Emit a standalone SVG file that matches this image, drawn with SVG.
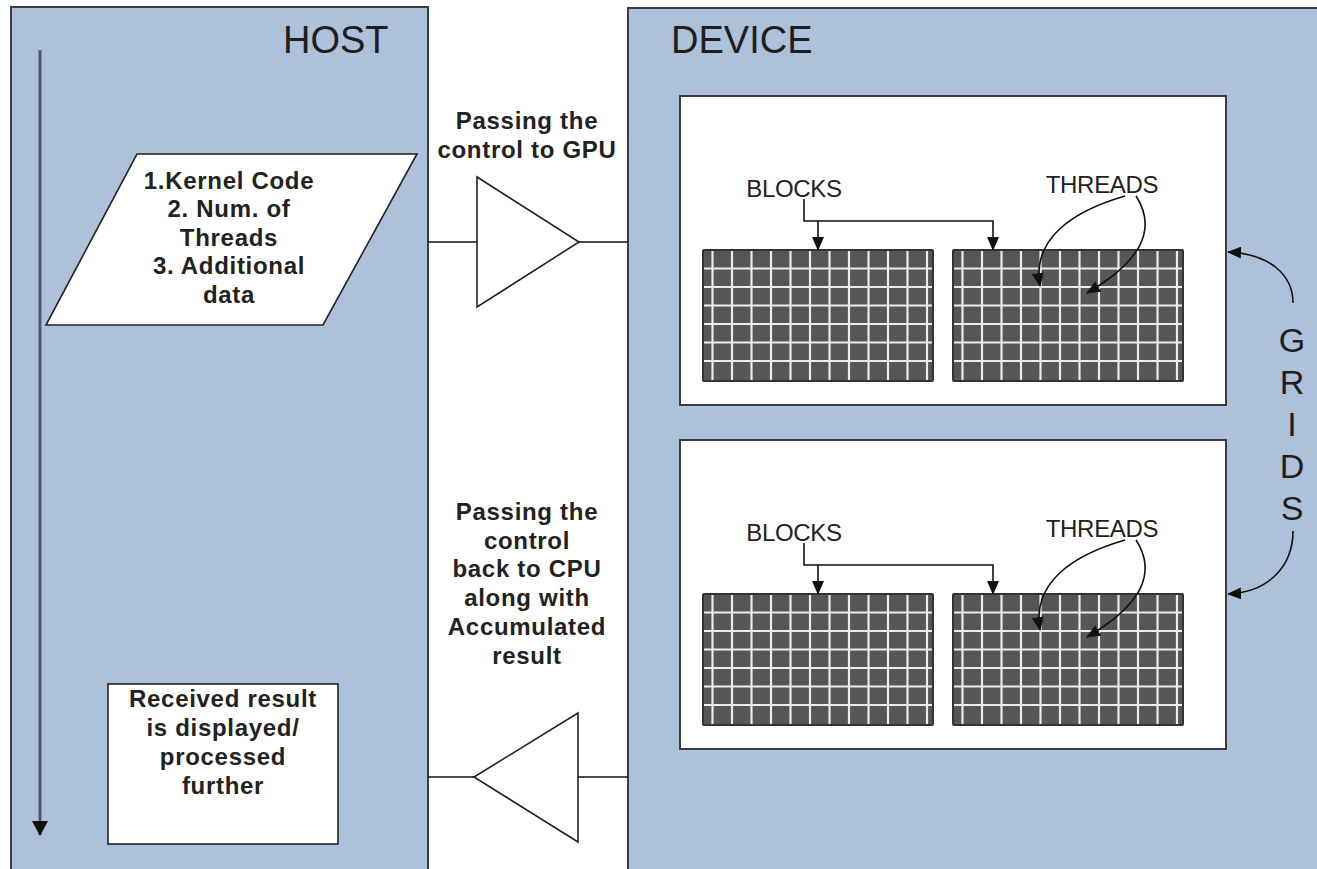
<svg xmlns="http://www.w3.org/2000/svg" xmlns:xlink="http://www.w3.org/1999/xlink" width="1317" height="869" viewBox="0 0 1317 869">
<style>
.panel{fill:#aec1da;stroke:#3a3d42;stroke-width:2}
.wbox{fill:#ffffff;stroke:#3a3d42;stroke-width:2}
.ln{fill:none;stroke:#111;stroke-width:1.6}
.tri{fill:#ffffff;stroke:#222;stroke-width:1.6}
.big{font-family:"Liberation Sans",Arial,sans-serif;font-size:38px;fill:#1e1e1e}
.bold{font-family:"Liberation Sans",Arial,sans-serif;font-size:24px;font-weight:bold;fill:#222;text-anchor:middle;letter-spacing:0.7px}
.lbl{font-family:"Liberation Sans",Arial,sans-serif;font-size:24px;fill:#222;text-anchor:middle;letter-spacing:-0.3px}
.grids{font-family:"Liberation Sans",Arial,sans-serif;font-size:34px;fill:#1e1e1e;text-anchor:middle}
.gl{stroke:#ececec;stroke-width:2.2}
</style>
<defs>
<marker id="ah" viewBox="0 0 14 12" refX="13" refY="6" markerWidth="14" markerHeight="12" orient="auto" markerUnits="userSpaceOnUse">
<path d="M0,0 L14,6 L0,12 z" fill="#111"/>
</marker>
<marker id="ahv" viewBox="0 0 15 16" refX="14" refY="8" markerWidth="15" markerHeight="16" orient="auto" markerUnits="userSpaceOnUse">
<path d="M0,0 L15,8 L0,16 z" fill="#111"/>
</marker>
<g id="grid">
<rect x="0" y="0" width="230" height="131" fill="#565656" stroke="#333" stroke-width="2" rx="1"/>
<g class="gl">
<line x1="9.5" y1="1" x2="9.5" y2="130"/>
<line x1="29" y1="1" x2="29" y2="130"/>
<line x1="48.5" y1="1" x2="48.5" y2="130"/>
<line x1="68" y1="1" x2="68" y2="130"/>
<line x1="87.5" y1="1" x2="87.5" y2="130"/>
<line x1="107" y1="1" x2="107" y2="130"/>
<line x1="126.5" y1="1" x2="126.5" y2="130"/>
<line x1="146" y1="1" x2="146" y2="130"/>
<line x1="165.5" y1="1" x2="165.5" y2="130"/>
<line x1="185" y1="1" x2="185" y2="130"/>
<line x1="204.5" y1="1" x2="204.5" y2="130"/>
<line x1="224" y1="1" x2="224" y2="130"/>
<line x1="1" y1="18.5" x2="229" y2="18.5"/>
<line x1="1" y1="37" x2="229" y2="37"/>
<line x1="1" y1="55.5" x2="229" y2="55.5"/>
<line x1="1" y1="74" x2="229" y2="74"/>
<line x1="1" y1="92.5" x2="229" y2="92.5"/>
<line x1="1" y1="111" x2="229" y2="111"/>
</g>
</g>
</defs>
<rect x="0" y="0" width="1317" height="869" fill="#ffffff"/>

<g id="host">
<rect class="panel" x="11" y="7" width="417" height="875"/>
<text class="big" x="283" y="53">HOST</text>
</g>

<g id="device">
<rect class="panel" x="628" y="8" width="700" height="875"/>
<text class="big" x="671" y="53">DEVICE</text>
</g>

<g id="host-flow-arrow">
<line x1="40" y1="50" x2="40" y2="835" stroke="#4f5a68" stroke-width="3" marker-end="url(#ahv)"/>
</g>

<g id="input-data">
<polygon class="wbox" points="137,154 417,154 323,325 46,325" style="stroke:#222;stroke-width:1.6"/>
<text class="bold" x="229" y="189">1.Kernel Code</text>
<text class="bold" x="229" y="217">2. Num. of</text>
<text class="bold" x="229" y="246">Threads</text>
<text class="bold" x="229" y="274">3. Additional</text>
<text class="bold" x="229" y="303">data</text>
</g>

<g id="result-box">
<rect x="108" y="684" width="230" height="160" fill="#fff" stroke="#222" stroke-width="1.6"/>
<text class="bold" x="223" y="707">Received result</text>
<text class="bold" x="223" y="736">is displayed/</text>
<text class="bold" x="223" y="765">processed</text>
<text class="bold" x="223" y="794">further</text>
</g>

<g id="to-gpu">
<text class="bold" x="527" y="129">Passing the</text>
<text class="bold" x="527" y="158">control to GPU</text>
<polygon class="tri" points="477,177 579,242 477,307"/>
</g>

<g id="to-cpu">
<text class="bold" x="527" y="520">Passing the</text>
<text class="bold" x="527" y="549">control</text>
<text class="bold" x="527" y="577">back to CPU</text>
<text class="bold" x="527" y="606">along with</text>
<text class="bold" x="527" y="635">Accumulated</text>
<text class="bold" x="527" y="664">result</text>
<polygon class="tri" points="578,713 474,777 578,842"/>
</g>

<g id="grid-1">
<rect class="wbox" x="680" y="96" width="546" height="309"/>
<use xlink:href="#grid" x="703" y="250"/>
<use xlink:href="#grid" x="953" y="250"/>
<text class="lbl" x="794" y="197">BLOCKS</text>
<text class="lbl" x="1102" y="193">THREADS</text>
</g>

<g id="grid-2">
<rect class="wbox" x="680" y="440" width="546" height="309"/>
<use xlink:href="#grid" x="703" y="594"/>
<use xlink:href="#grid" x="953" y="594"/>
<text class="lbl" x="794" y="541">BLOCKS</text>
<text class="lbl" x="1102" y="537">THREADS</text>
</g>

<g id="grids-label">
<text class="grids" x="1292" y="352">G</text>
<text class="grids" x="1292" y="394">R</text>
<text class="grids" x="1292" y="436">I</text>
<text class="grids" x="1292" y="478">D</text>
<text class="grids" x="1292" y="520">S</text>
</g>

<g id="connectors">
<line class="ln" x1="428" y1="242" x2="477" y2="242"/>
<line class="ln" x1="579" y1="242" x2="628" y2="242"/>
<line class="ln" x1="428" y1="777" x2="474" y2="777"/>
<line class="ln" x1="578" y1="777" x2="628" y2="777"/>

<path class="ln" d="M804,199 V221 H993 V250" marker-end="url(#ah)"/>
<path class="ln" d="M818,221 V250" marker-end="url(#ah)"/>
<path class="ln" d="M1125,196 C1070,212 1032,240 1040,286" marker-end="url(#ah)"/>
<path class="ln" d="M1136,196 C1158,230 1140,262 1087,293" marker-end="url(#ah)"/>

<path class="ln" d="M804,543 V565 H993 V594" marker-end="url(#ah)"/>
<path class="ln" d="M818,565 V594" marker-end="url(#ah)"/>
<path class="ln" d="M1125,540 C1070,556 1032,584 1040,630" marker-end="url(#ah)"/>
<path class="ln" d="M1136,540 C1158,574 1140,606 1087,637" marker-end="url(#ah)"/>

<path class="ln" d="M1293,303 C1293,275 1270,254 1228,252" marker-end="url(#ah)"/>
<path class="ln" d="M1293,531 C1293,565 1270,592 1228,594" marker-end="url(#ah)"/>
</g>
</svg>
